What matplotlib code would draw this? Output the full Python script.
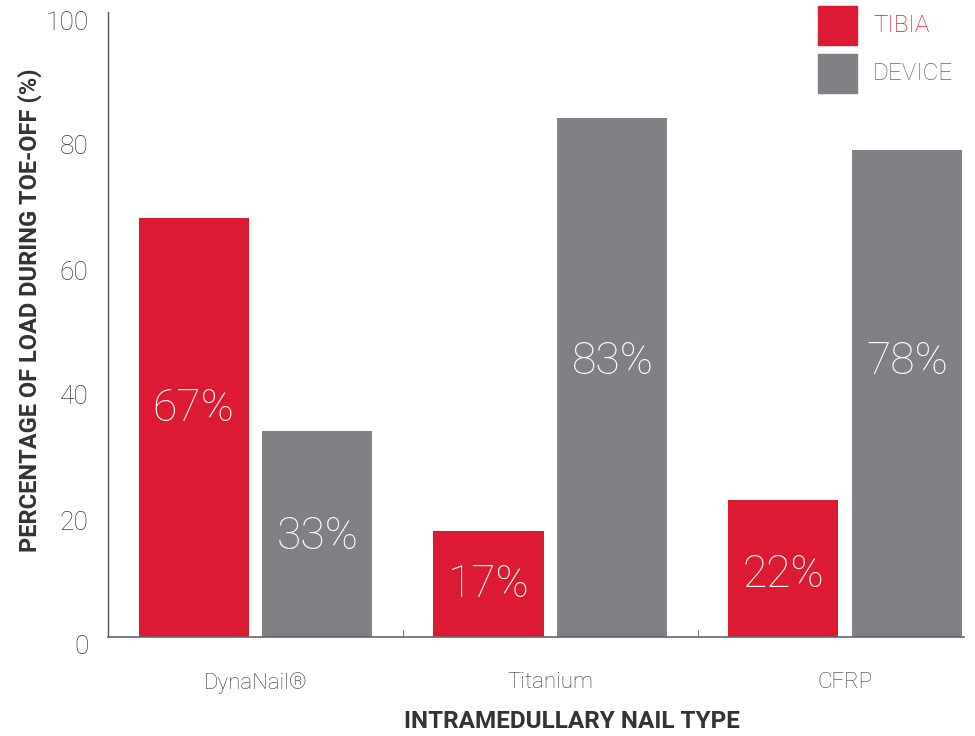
import matplotlib
matplotlib.use("Agg")
import matplotlib.pyplot as plt
from matplotlib.patches import Rectangle
from matplotlib.transforms import ScaledTranslation
import numpy as np

# data
nail_types = ["DynaNail®", "Titanium", "CFRP"]
tibia = [67, 17, 22]
device = [33, 83, 78]
series_names = ["TIBIA", "DEVICE"]
y_ticks = [0, 20, 40, 60, 80, 100]

# where the % labels sit inside the bars (data units)
tibia_label_y = [36.5, 8.3, 9.9]
device_label_y = [16, 44, 44]

RED = "#dc1a32"
GREY = "#808184"
TXT = "#3a3a3a"

plt.rcParams["font.family"] = ["Roboto", "DejaVu Sans"]

fig = plt.figure(figsize=(9.75, 7.36), dpi=100)
ax = fig.add_axes([108 / 975, 1 - 637 / 736, (964 - 108) / 975, (637 - 12) / 736])

x = np.arange(len(nail_types))
w = 0.373
off = 0.21
ax.bar(x - off, tibia, w, color=RED)
ax.bar(x + off, device, w, color=GREY)

for i in range(len(x)):
    ax.text(x[i] - off, tibia_label_y[i], f"{tibia[i]}%", color="white",
            fontsize=32, fontweight="light", ha="center", va="center")
    ax.text(x[i] + off, device_label_y[i], f"{device[i]}%", color="white",
            fontsize=32, fontweight="light", ha="center", va="center")

ax.set_xlim(-0.5, 2.402)
ax.set_ylim(0, 100)

for s in ["top", "right"]:
    ax.spines[s].set_visible(False)
ax.spines["left"].set_color("#555555")
ax.spines["bottom"].set_color("#666666")
ax.spines["left"].set_linewidth(1.0)
ax.spines["bottom"].set_linewidth(1.2)

ax.set_yticks(y_ticks)
ax.set_yticklabels([str(t) for t in y_ticks])
ax.tick_params(axis="y", length=0, pad=14, labelsize=19, labelcolor=TXT)
for lab in ax.get_yticklabels():
    lab.set_fontweight("light")
    lab.set_transform(lab.get_transform() + ScaledTranslation(0, -8 / 100, fig.dpi_scale_trans))

ax.set_xticks(x)
ax.set_xticklabels(nail_types)
ax.set_xticks([0.5, 1.5], minor=True)
ax.tick_params(axis="x", which="major", length=0, pad=25, labelsize=16, labelcolor=TXT)
ax.tick_params(axis="x", which="minor", direction="in", length=5, color="#555555")
for lab in ax.get_xticklabels():
    lab.set_fontweight("light")

fig.text(572 / 975, 1 - 722 / 736, "INTRAMEDULLARY NAIL TYPE", ha="center", va="center",
         fontsize=17.5, fontweight="bold", color="#333333")
fig.text(30 / 975, 1 - 310 / 736, "PERCENTAGE OF LOAD DURING TOE-OFF (%)", ha="center",
         va="center", rotation=90, fontsize=17, fontweight="bold", color="#333333")

# legend boxes
for k, (name, col) in enumerate(zip(series_names, [RED, GREY])):
    top = 6 + k * 48
    fig.add_artist(Rectangle((818 / 975, 1 - (top + 39) / 736), 39 / 975, 39 / 736,
                             transform=fig.transFigure, color=col))
    fig.text(873 / 975, 1 - (top + 20) / 736, name, ha="left", va="center",
             fontsize=17.5, fontweight="light", color=RED if k == 0 else "#666666")

fig.savefig("out.png", dpi=100)
